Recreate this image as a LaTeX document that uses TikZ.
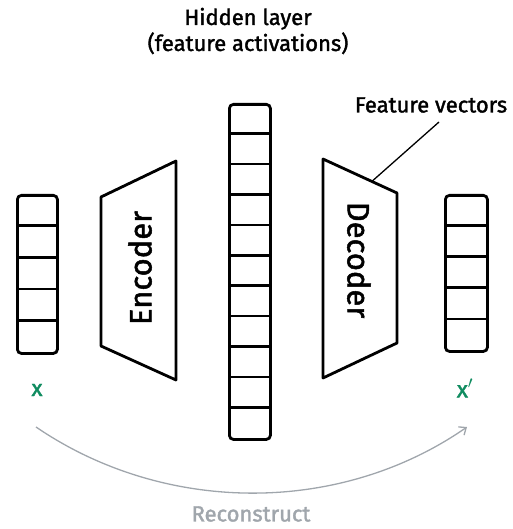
\documentclass[tikz,border=0pt]{standalone}
\usepackage{fontspec}
\setmainfont{Fira Sans}[FakeBold=1.6]
\usetikzlibrary{arrows.meta,calc}
\definecolor{inkgreen}{RGB}{16,140,96}
\definecolor{inkgray}{RGB}{160,166,172}
\begin{document}
\begin{tikzpicture}[x=1pt,y=-1pt,
  vec/.style={draw, line width=2.8pt, rounded corners=4pt, inner sep=0pt, anchor=north west},
  div/.style={line width=2.6pt},
  trap/.style={draw, line width=2.8pt, line join=round},
  lbl/.style={font=\fontsize{22}{26}\selectfont, align=center},
  blocklbl/.style={font=\fontsize{31}{34}\selectfont},
  varlbl/.style={font=\fontsize{23}{26}\selectfont, text=inkgreen},
  recon/.style={draw=inkgray, line width=1.3pt, -{Straight Barb[length=6pt,width=10pt]}},
  ]
\useasboundingbox (0,0) rectangle (512,529);
% input vector
\node[vec, minimum width=40pt, minimum height=158pt] (xin) at (16,194) {};
\foreach \i in {1,...,4} \draw[div] ([yshift=-31.6*\i pt]xin.north west) -- ([yshift=-31.6*\i pt]xin.north east);
% hidden vector
\node[vec, minimum width=41pt, minimum height=335pt] (hid) at (228,103) {};
\foreach \i in {1,...,10} \draw[div] ([yshift=-30.45*\i pt]hid.north west) -- ([yshift=-30.45*\i pt]hid.north east);
% output vector
\node[vec, minimum width=42pt, minimum height=156pt] (xout) at (444,194) {};
\foreach \i in {1,...,4} \draw[div] ([yshift=-31.2*\i pt]xout.north west) -- ([yshift=-31.2*\i pt]xout.north east);
% encoder
\coordinate (eTL) at (101,197); \coordinate (eTR) at (176,161);
\coordinate (eBR) at (176,380); \coordinate (eBL) at (101,346);
\draw[trap] (eTL) -- (eTR) -- (eBR) -- (eBL) -- cycle;
\node[blocklbl, rotate=90] (enc) at (140,268) {Encoder};
% decoder
\coordinate (dTL) at (323,159); \coordinate (dTR) at (397,193);
\coordinate (dBR) at (397,343); \coordinate (dBL) at (323,378);
\draw[trap] (dTL) -- (dTR) -- (dBR) -- (dBL) -- cycle;
\node[blocklbl, rotate=-90] (dec) at (359,260) {Decoder};
% labels
\node[lbl] (hidlbl) at (248,31) {Hidden layer\\(feature activations)};
\node[lbl] (fvlbl) at (431,105) {Feature vectors};
\coordinate (fv) at ($(dTL)!0.66!(dTR)$);
\coordinate (fvs) at (439,122);
\draw[line width=1.3pt] (fvs) -- (fv);
\node[varlbl] (x) at (37,390) {x};
\node[varlbl] (xp) at (465,388) {x$'$};
% reconstruct arrow
\coordinate (rs) at (36,427);
\coordinate (re) at (467,427);
\draw[recon] (rs) .. controls (165,515) and (340,515) .. (re);
\node[lbl, text=inkgray] (rlbl) at (251,514) {Reconstruct};
\end{tikzpicture}
\end{document}
